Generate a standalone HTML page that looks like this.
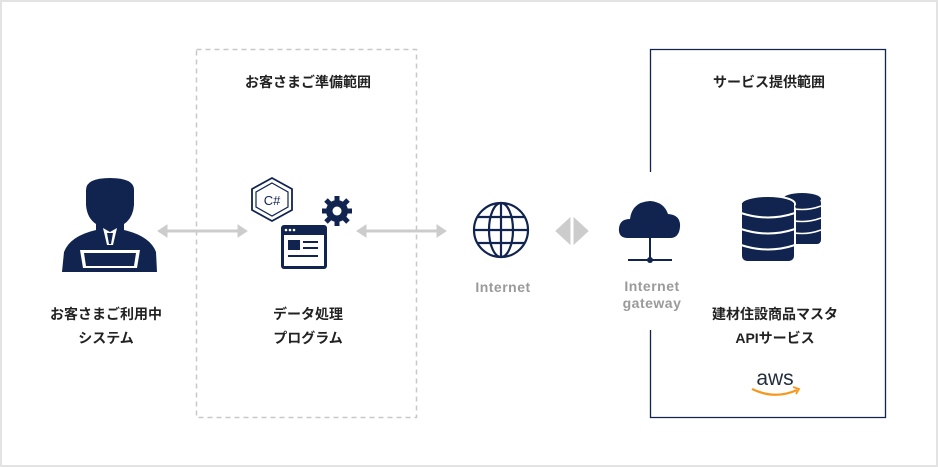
<!DOCTYPE html>
<html><head><meta charset="utf-8"><style>
html,body{margin:0;padding:0;background:#fff}
#c{position:relative;width:938px;height:467px;box-sizing:border-box;border:2px solid #e3e3e3;background:#fff;overflow:hidden;font-family:"Liberation Sans","Noto Sans CJK JP",sans-serif}
.t{position:absolute;font-size:14px;font-weight:bold;color:#222;text-align:center;line-height:24px;white-space:nowrap}
.g{position:absolute;font-size:14px;font-weight:bold;color:#9a9a9a;text-align:center;line-height:17px;letter-spacing:0.5px}
</style></head><body><div id="c">
<svg width="938" height="467" style="position:absolute;left:-2px;top:-2px">
<rect x="196.5" y="49.5" width="220" height="368" fill="none" stroke="#c8c8c8" stroke-width="1.5" stroke-dasharray="5,4"/>
<path d="M650.5 172 V49.5 H885.5 V417.5 H650.5 V330" fill="none" stroke="#10244f" stroke-width="1.3"/>
<g fill="#cccccc" stroke="#cccccc">
<line x1="165" y1="231" x2="241" y2="231" stroke-width="3"/>
<path d="M158 231 L167 225 L167 237Z"/><path d="M247 231 L238 225 L238 237Z"/>
<line x1="364" y1="231" x2="440" y2="231" stroke-width="3"/>
<path d="M357 231 L366 225 L366 237Z"/><path d="M446 231 L437 225 L437 237Z"/>
<path d="M556 231 L570 218 L570 244Z"/><path d="M588 231 L574 218 L574 244Z"/>
</g>
<g fill="#10244f">
<!-- person -->
<path d="M86 190 Q86 178 110 178 Q134 178 134 190 L134 205 Q133 218 124 224 L124 230 Q150 236 156 252 L157 272 L62 272 L64 252 Q70 236 96 230 L96 224 Q87 218 86 205Z"/>
<path d="M80 250 L140 250 L137 268 L83 268Z" fill="#fff"/>
<path d="M84 253 L136 253 L134 266 L86 266Z"/>
<path d="M103 228 L110 232 L117 228 L113 245 L107 245Z" fill="#fff"/>
<path d="M107 233 L113 233 L111 244 L109 244Z"/>
<!-- C# hex -->
<polygon points="272,178 292,189 292,210 272,221 252,210 252,189" fill="none" stroke="#10244f" stroke-width="1.8"/>
<polygon points="272,183 288,192 288,207 272,216 256,207 256,192" fill="none" stroke="#10244f" stroke-width="1.2"/>
<text x="272" y="205" font-size="13" font-family="Liberation Sans" text-anchor="middle" fill="#10244f">C#</text>
<!-- gear -->
<circle cx="337" cy="211" r="11"/>
<g stroke="#10244f" stroke-width="5"><line x1="337" y1="196" x2="337" y2="226"/><line x1="322" y1="211" x2="352" y2="211"/><line x1="326" y1="200" x2="348" y2="222"/><line x1="348" y1="200" x2="326" y2="222"/></g>
<circle cx="337" cy="211" r="4.5" fill="#fff"/>
<!-- window -->
<rect x="281" y="225" width="46" height="44" rx="3"/>
<rect x="284" y="235" width="40" height="31" fill="#fff"/>
<circle cx="286" cy="230" r="1.3" fill="#fff"/><circle cx="290" cy="230" r="1.3" fill="#fff"/><circle cx="294" cy="230" r="1.3" fill="#fff"/>
<rect x="288" y="240" width="12" height="10"/><rect x="303" y="241" width="15" height="2"/><rect x="303" y="247" width="15" height="2"/><rect x="288" y="255" width="30" height="2"/>
<!-- globe -->
<g fill="none" stroke="#10244f" stroke-width="2.2">
<circle cx="501" cy="230" r="27"/><ellipse cx="501" cy="230" rx="12" ry="27"/>
<line x1="501" y1="203" x2="501" y2="257"/><line x1="474" y1="230" x2="528" y2="230"/>
<line x1="478" y1="217" x2="524" y2="217"/><line x1="478" y1="243" x2="524" y2="243"/>
</g>
<!-- cloud -->
<path d="M628 238 Q618 238 619 228 Q620 219 630 219 Q632 202 650 201 Q664 202 668 214 Q681 215 680 227 Q679 238 670 238Z"/>
<rect x="649" y="238" width="2" height="20"/><rect x="628" y="259" width="44" height="2"/><circle cx="650" cy="260" r="3"/>
<!-- DB small -->
<g>
<ellipse cx="802" cy="199" rx="19" ry="6"/>
<rect x="783" y="199" width="38" height="45" rx="4"/>
</g>
<g stroke="#fff" stroke-width="1.5" fill="none"><path d="M783 206 Q802 213 821 206"/><path d="M783 218 Q802 225 821 218"/><path d="M783 230 Q802 237 821 230"/></g>
<!-- DB big -->
<ellipse cx="768" cy="204" rx="27" ry="8" stroke="#fff" stroke-width="2"/>
<rect x="741" y="204" width="54" height="58" rx="6" stroke="#fff" stroke-width="2"/>
<rect x="742" y="203" width="52" height="6"/>
<g stroke="#fff" stroke-width="2" fill="none"><path d="M741 213 Q768 222 795 213"/><path d="M741 229 Q768 238 795 229"/><path d="M741 245 Q768 254 795 245"/></g>
</g>
<!-- aws -->
<text x="775" y="385" font-size="21" font-family="Liberation Sans" text-anchor="middle" fill="#232f3e">aws</text>
<path d="M752 389 Q775 400 797 390" fill="none" stroke="#f7981d" stroke-width="2.2"/>
<path d="M793 387 L799 389 L796 394" fill="none" stroke="#f7981d" stroke-width="1.8"/>
</svg>
<div class="t" style="left:206px;top:68px;width:200px">お客さまご準備範囲</div>
<div class="t" style="left:667px;top:68px;width:200px">サービス提供範囲</div>
<div class="t" style="left:4px;top:300px;width:200px">お客さまご利用中<br>システム</div>
<div class="t" style="left:206px;top:300px;width:200px">データ処理<br>プログラム</div>
<div class="t" style="left:673px;top:300px;width:200px">建材住設商品マスタ<br>APIサービス</div>
<div class="g" style="left:451px;top:277px;width:100px">Internet</div>
<div class="g" style="left:600px;top:276px;width:100px">Internet<br>gateway</div>
</div></body></html>
